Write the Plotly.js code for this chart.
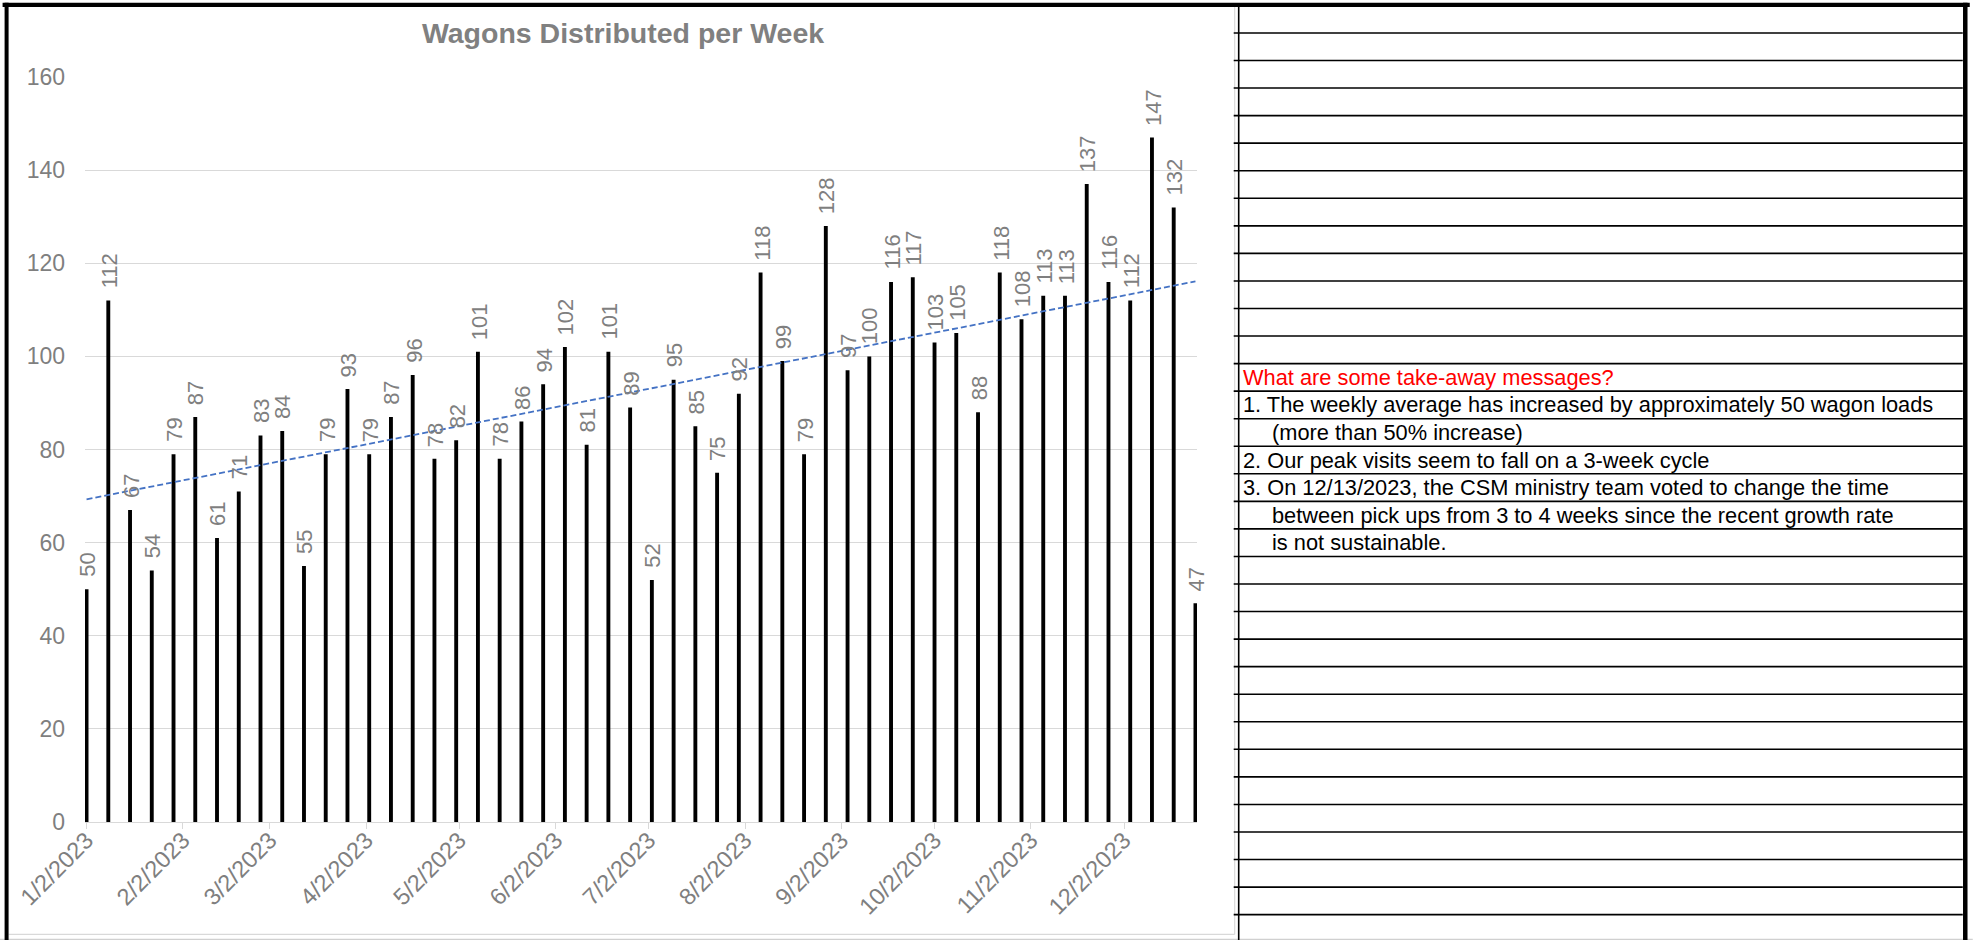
<!DOCTYPE html>
<html>
<head>
<meta charset="utf-8">
<script src="https://cdn.plot.ly/plotly-3.0.1.min.js"></script>
<style>
html, body { margin: 0; padding: 0; background: #ffffff; }
#chart { width: 1973px; height: 940px; }
</style>
</head>
<body>
<div id="chart"></div>
<script>
// ---------------- DATA ----------------
const weeks = [
  '2023-01-02','2023-01-09','2023-01-16','2023-01-23','2023-01-30',
  '2023-02-06','2023-02-13','2023-02-20','2023-02-27',
  '2023-03-06','2023-03-13','2023-03-20','2023-03-27',
  '2023-04-03','2023-04-10','2023-04-17','2023-04-24',
  '2023-05-01','2023-05-08','2023-05-15','2023-05-22','2023-05-29',
  '2023-06-05','2023-06-12','2023-06-19','2023-06-26',
  '2023-07-03','2023-07-10','2023-07-17','2023-07-24','2023-07-31',
  '2023-08-07','2023-08-14','2023-08-21','2023-08-28',
  '2023-09-04','2023-09-11','2023-09-18','2023-09-25',
  '2023-10-02','2023-10-09','2023-10-16','2023-10-23','2023-10-30',
  '2023-11-06','2023-11-13','2023-11-20','2023-11-27',
  '2023-12-04','2023-12-11','2023-12-18','2023-12-25'
];
const wagons = [
  50,112,67,54,79,
  87,61,71,83,
  84,55,79,93,
  79,87,96,78,
  82,101,78,86,94,
  102,81,101,89,
  52,95,85,75,92,
  118,99,79,128,
  97,100,116,117,
  103,105,88,118,108,
  113,113,137,116,
  112,147,132,47
];
const monthTicks = [
  '2023-01-02','2023-02-02','2023-03-02','2023-04-02','2023-05-02','2023-06-02',
  '2023-07-02','2023-08-02','2023-09-02','2023-10-02','2023-11-02','2023-12-02'
];
const monthLabels = [
  '1/2/2023','2/2/2023','3/2/2023','4/2/2023','5/2/2023','6/2/2023',
  '7/2/2023','8/2/2023','9/2/2023','10/2/2023','11/2/2023','12/2/2023'
];
const trendDates = ['2023-01-02', '2023-12-25'];
const trendValues = [69.3, 116.1];
const chartTitle = 'Wagons Distributed per Week';
const notesHeading = 'What are some take-away messages?';
const notes = [
  '1. The weekly average has increased by approximately 50 wagon loads',
  '(more than 50% increase)',
  '2. Our peak visits seem to fall on a 3-week cycle',
  '3. On 12/13/2023, the CSM ministry team voted to change the time',
  'between pick ups from 3 to 4 weeks since the recent growth rate',
  'is not sustainable.'
];

// ---------------- LAYOUT GEOMETRY ----------------
const W = 1973, H = 940;
const L = 85.4, R = 1197.3, T = 77.3, B = 821.7;
const DAY = 86400000;
const px2x = p => (p - L) / (R - L);
const px2y = p => (B - p) / (B - T);
const FONT = 'Liberation Sans, Arial, Helvetica, sans-serif';
const GREY = '#7f7f7f';

const shapes = [];
function hline(x0, x1, y, color, w) {
  shapes.push({type: 'line', xref: 'paper', yref: 'paper',
    x0: px2x(x0), x1: px2x(x1), y0: px2y(y), y1: px2y(y),
    line: {color: color, width: w}});
}
function vline(x, y0, y1, color, w) {
  shapes.push({type: 'line', xref: 'paper', yref: 'paper',
    x0: px2x(x), x1: px2x(x), y0: px2y(y0), y1: px2y(y1),
    line: {color: color, width: w}});
}

// chart area light border
hline(9, 1235, 934, '#d9d9d9', 1.2);
vline(1235, 7, 934, '#d9d9d9', 1.2);
hline(0, 1973, 939, '#d0d0d0', 1.2);

// table rows
const ROW0 = 33.3, ROWH = 27.53;
for (let k = 0; k <= 32; k++) {
  hline(1234, 1963, ROW0 + ROWH * k, '#000000', 1.6);
}
vline(1239, 5, 940, '#000000', 1.6);

// outer thick frame
hline(3, 1970, 5.3, '#000000', 4.2);
vline(7, 3, 940, '#000000', 4);
vline(1965.5, 3, 940, '#000000', 4.5);

// ---------------- ANNOTATIONS ----------------
const annotations = [];
// data labels
for (let i = 0; i < weeks.length; i++) {
  annotations.push({
    x: weeks[i], y: wagons[i], xref: 'x', yref: 'y',
    text: String(wagons[i]), showarrow: false, textangle: -90,
    xanchor: 'center', yanchor: 'bottom', yshift: 10, xshift: 1,
    font: {family: FONT, size: 22, color: GREY}
  });
}
// notes
annotations.push({
  xref: 'paper', yref: 'paper', x: px2x(1241), y: px2y(ROW0 + ROWH * 12.5),
  xanchor: 'left', yanchor: 'middle', showarrow: false, text: notesHeading,
  font: {family: FONT, size: 21.8, color: '#ff0000'}
});
notes.forEach((line, i) => {
  const numbered = /^\d/.test(line);
  annotations.push({
    xref: 'paper', yref: 'paper', x: px2x(numbered ? 1241 : 1270),
    y: px2y(ROW0 + ROWH * (13.5 + i)),
    xanchor: 'left', yanchor: 'middle', showarrow: false, text: line,
    font: {family: FONT, size: 21.8, color: '#000000'}
  });
});

// ---------------- TRACES ----------------
const bars = {
  type: 'bar', x: weeks, y: wagons,
  width: 1.25 * DAY,
  marker: {color: '#000000', line: {width: 0}},
  hoverinfo: 'x+y'
};
const trend = {
  type: 'scatter', mode: 'lines', x: trendDates, y: trendValues,
  line: {color: '#4472c4', width: 1.8, dash: '6px,3px'},
  hoverinfo: 'skip'
};

const layout = {
  width: W, height: H,
  margin: {l: L, r: W - R, t: T, b: H - B, pad: 0},
  paper_bgcolor: '#ffffff', plot_bgcolor: '#ffffff',
  showlegend: false,
  title: {
    text: chartTitle, xref: 'container', yref: 'container',
    x: 623 / W, xanchor: 'center', y: 1 - 33 / H, yanchor: 'middle',
    font: {family: FONT, size: 28.5, color: '#808080', weight: 'bold'}
  },
  xaxis: {
    type: 'date',
    range: ['2023-01-01 12:00', '2023-12-25 12:00'],
    tickmode: 'array', tickvals: monthTicks, ticktext: monthLabels,
    tickangle: -45, ticks: 'outside', ticklen: 6, tickcolor: '#d9d9d9', tickwidth: 1,
    ticklabelstandoff: -12,
    showline: true, linecolor: '#d9d9d9', linewidth: 1.3,
    showgrid: false, zeroline: false,
    tickfont: {family: FONT, size: 23.5, color: GREY},
    fixedrange: true
  },
  yaxis: {
    range: [0, 160], dtick: 20, tick0: 0,
    showgrid: true, gridcolor: '#d9d9d9', gridwidth: 1.2,
    zeroline: false, showline: false, ticks: '',
    ticklabelstandoff: 19,
    tickfont: {family: FONT, size: 23, color: GREY},
    fixedrange: true
  },
  shapes: shapes,
  annotations: annotations
};

Plotly.newPlot('chart', [bars, trend], layout, {displayModeBar: false, staticPlot: true});
</script>
</body>
</html>
